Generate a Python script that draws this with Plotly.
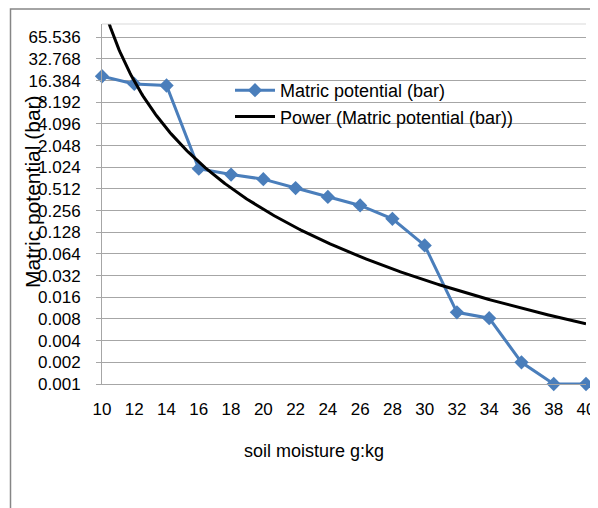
import numpy as np
import plotly.graph_objects as go

# ---- data ----
soil_moisture = [10, 12, 14, 16, 18, 20, 22, 24, 26, 28, 30, 32, 34, 36, 38, 40]
matric_potential = [18.8, 14.7, 14.0, 0.98, 0.81, 0.70, 0.527, 0.396, 0.302, 0.197,
                    0.084, 0.0099, 0.0082, 0.002, 0.001, 0.001]
y_tick_labels = ["0.001", "0.002", "0.004", "0.008", "0.016", "0.032", "0.064", "0.128",
                 "0.256", "0.512", "1.024", "2.048", "4.096", "8.192", "16.384",
                 "32.768", "65.536"]
x_tick_labels = [str(v) for v in soil_moisture]
series_name = "Matric potential (bar)"
trend_name = "Power (Matric potential (bar))"

# ---- Excel-style power trendline (fitted on category index 1..n) ----
idx = np.arange(1, len(soil_moisture) + 1)
b, ln_a = np.polyfit(np.log(idx), np.log(matric_potential), 1)
n_dense = np.linspace(1, len(soil_moisture), 400)
x_step = soil_moisture[1] - soil_moisture[0]
x_dense = soil_moisture[0] + (n_dense - 1) * x_step
y_dense = np.exp(ln_a) * n_dense ** b

BLUE = "#4A7EBB"
FONT = "Liberation Sans, Arial, sans-serif"

fig = go.Figure()
fig.add_trace(go.Scatter(
    x=soil_moisture, y=matric_potential, mode="lines+markers", name=series_name,
    line=dict(color=BLUE, width=3),
    marker=dict(symbol="diamond", size=11, color=BLUE),
    cliponaxis=False,
))
fig.add_trace(go.Scatter(
    x=x_dense, y=y_dense, mode="lines", name=trend_name,
    line=dict(color="black", width=3),
))

# page offset (browser body margin) compensation
OFF = 8
W, H = 590, 500
L, R, T, B = 94, 12, 16, 124
pw, ph = W - L - R, H - T - B

def px_x(p):  # page pixel -> paper x
    return (p - OFF - L) / pw

def px_y(p):  # page pixel -> paper y
    return (H - B - (p - OFF)) / ph

fig.update_layout(
    width=W, height=H,
    margin=dict(l=L, r=R, t=T, b=B, pad=0, autoexpand=False),
    paper_bgcolor="white", plot_bgcolor="white",
    font=dict(family=FONT, color="#000000"),
    showlegend=True,
    legend=dict(
        x=px_x(230), y=px_y(72), xanchor="left", yanchor="top",
        font=dict(size=18, family=FONT), bgcolor="rgba(0,0,0,0)",
        itemwidth=40,
    ),
    xaxis=dict(
        range=[soil_moisture[0], soil_moisture[-1]],
        tickvals=soil_moisture, ticktext=x_tick_labels,
        tickfont=dict(size=17), showgrid=False, zeroline=False,
        showline=True, linecolor="#A6A6A6", linewidth=1,
        ticks="", ticklabelstandoff=10, ticklabeloverflow="allow",
        automargin=False,
    ),
    yaxis=dict(
        type="log", range=[-3, 2],
        tickvals=[float(t) for t in y_tick_labels], ticktext=y_tick_labels,
        tickfont=dict(size=17), showgrid=True, gridcolor="#A6A6A6", gridwidth=1,
        zeroline=False, showline=True, linecolor="#A6A6A6", linewidth=1,
        ticks="outside", ticklen=5, tickcolor="#A6A6A6", ticklabelstandoff=12,
        automargin=False,
    ),
    shapes=[
        dict(type="rect", xref="paper", yref="paper",
             x0=px_x(10.5), x1=px_x(640), y0=px_y(560), y1=px_y(9),
             line=dict(color="#868686", width=1.5), fillcolor="rgba(0,0,0,0)",
             layer="below"),
        dict(type="line", xref="paper", yref="paper",
             x0=0, x1=1, y0=1, y1=1, line=dict(color="#D9D9D9", width=1)),
    ],
    annotations=[
        dict(text="Matric potential (bar)", xref="paper", yref="paper",
             x=px_x(32), y=px_y(192), textangle=-90, showarrow=False,
             xanchor="center", yanchor="middle", font=dict(size=21)),
        dict(text="soil moisture g:kg", xref="paper", yref="paper",
             x=px_x(314), y=px_y(451), showarrow=False,
             xanchor="center", yanchor="middle", font=dict(size=18)),
    ],
)

fig.write_html("out.html")
